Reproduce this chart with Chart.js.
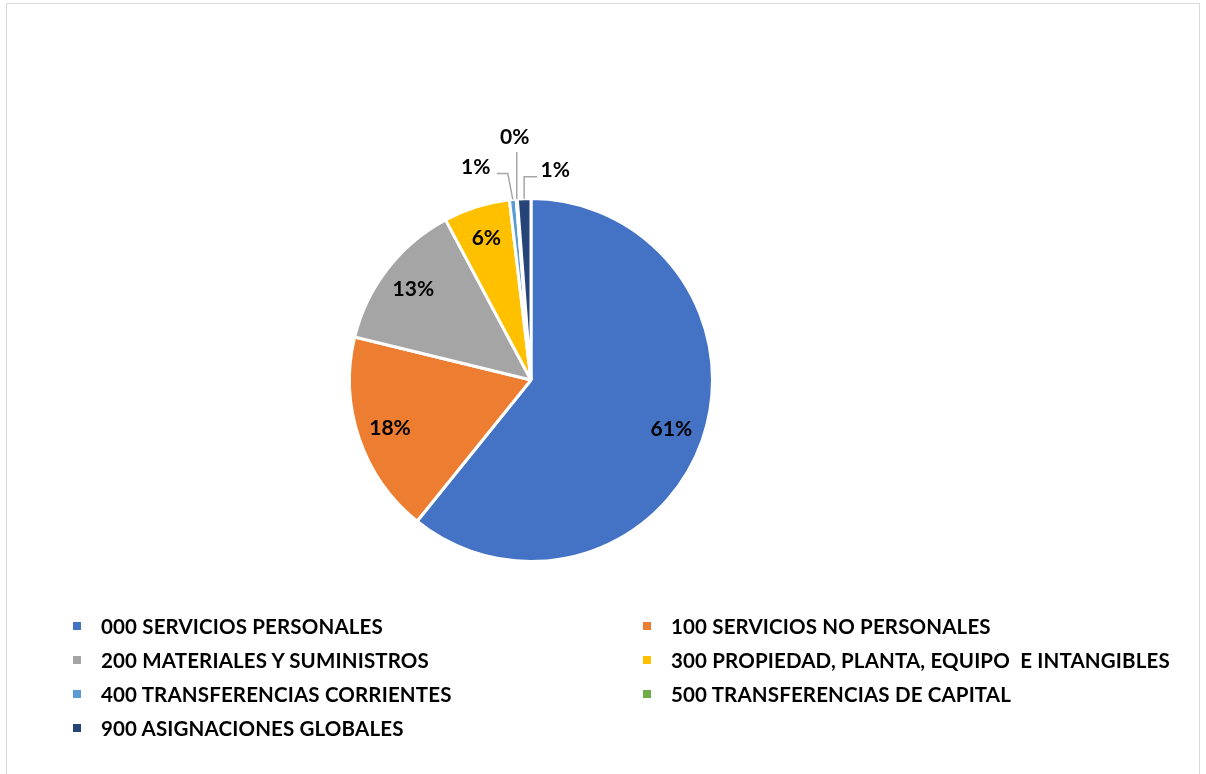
<!DOCTYPE html>
<html lang="es">
<head>
  <meta charset="UTF-8" />
  <title>Presupuesto por grupo de gasto</title>
  <style>
    body {
      margin: 0;
      background: #ffffff;
      width: 1206px;
      height: 774px;
      overflow: hidden;
      font-family: Lato, "Open Sans", sans-serif;
    }
    #frame {
      position: absolute;
      left: 6px;
      top: 3px;
      width: 1192px;
      height: 800px;
      border: 1.5px solid #d9d9d9;
    }
    #wrap {
      position: absolute;
      left: 0;
      top: 0;
      width: 1206px;
      height: 774px;
    }
    #legend {
      position: absolute;
      left: 73px;
      top: 613px;
      display: grid;
      grid-template-columns: 570px 560px;
      row-gap: 8px;
    }
    .item {
      display: flex;
      align-items: center;
      height: 26px;
      font-weight: bold;
      font-size: 20.5px;
      letter-spacing: 0.15px;
      color: #000;
      white-space: pre;
    }
    .sq {
      width: 8px;
      height: 8px;
      margin-right: 20px;
      flex: none;
    }
  </style>
</head>
<body>
  <div id="frame"></div>
  <div id="wrap"><canvas id="pie"></canvas></div>
  <div id="legend"></div>

  <script src="https://cdn.jsdelivr.net/npm/chart.js"></script>
  <script>
    // datos
    const categories = [
      "000 SERVICIOS PERSONALES",
      "100 SERVICIOS NO PERSONALES",
      "200 MATERIALES Y SUMINISTROS",
      "300 PROPIEDAD, PLANTA, EQUIPO  E INTANGIBLES",
      "400 TRANSFERENCIAS CORRIENTES",
      "500 TRANSFERENCIAS DE CAPITAL",
      "900 ASIGNACIONES GLOBALES"
    ];
    const values = [60.8, 18.0, 13.4, 5.9, 0.6, 0.1, 1.2];
    const colors = ["#4472C4", "#ED7D31", "#A5A5A5", "#FFC000", "#5B9BD5", "#70AD47", "#264478"];

    // donde va cada etiqueta: dentro o fuera con linea guia
    const placement = [
      "in", "in", "in", "in",
      { elbow: [-5, -26], run: -11, text: [-21, -6] },
      { elbow: [0, -47], run: 0, text: [-2, -15] },
      { elbow: [0, -22], run: 13, text: [18, -6] }
    ];

    // leyenda en dos columnas
    const legend = document.getElementById("legend");
    categories.forEach((c, i) => {
      const d = document.createElement("div");
      d.className = "item";
      d.innerHTML = `<span class="sq" style="background:${colors[i]}"></span>${c}`;
      legend.appendChild(d);
    });

    const total = values.reduce((a, b) => a + b, 0);

    const pctLabels = {
      id: "pctLabels",
      afterDatasetsDraw(chart) {
        const ctx = chart.ctx;
        const meta = chart.getDatasetMeta(0);
        ctx.save();
        ctx.font = "bold 21px Lato";
        ctx.fillStyle = "#000";
        ctx.textAlign = "center";
        ctx.textBaseline = "middle";
        meta.data.forEach((arc, i) => {
          const p = arc.getProps(["x", "y", "startAngle", "endAngle", "outerRadius"], true);
          const mid = (p.startAngle + p.endAngle) / 2;
          const txt = Math.round(values[i] / total * 100) + "%";
          const pl = placement[i];
          if (pl === "in") {
            const r = p.outerRadius * 0.82;
            ctx.fillText(txt, p.x + Math.cos(mid) * r, p.y + Math.sin(mid) * r);
          } else {
            const ex = p.x + Math.cos(mid) * p.outerRadius;
            const ey = p.y + Math.sin(mid) * p.outerRadius;
            const bx = ex + pl.elbow[0], by = ey + pl.elbow[1];
            ctx.strokeStyle = "#a6a6a6";
            ctx.lineWidth = 1.5;
            ctx.beginPath();
            ctx.moveTo(ex, ey);
            ctx.lineTo(bx, by);
            ctx.lineTo(bx + pl.run, by);
            ctx.stroke();
            ctx.fillText(txt, bx + pl.run + pl.text[0], by + pl.text[1]);
          }
        });
        ctx.restore();
      }
    };

    new Chart(document.getElementById("pie"), {
      type: "pie",
      data: {
        labels: categories,
        datasets: [{
          data: values,
          backgroundColor: colors,
          borderColor: "#ffffff",
          borderWidth: 3
        }]
      },
      options: {
        responsive: true,
        maintainAspectRatio: false,
        animation: false,
        layout: { padding: { left: 348, right: 492, top: 197, bottom: 211 } },
        plugins: {
          legend: { display: false },
          tooltip: { enabled: false }
        }
      },
      plugins: [pctLabels]
    });
  </script>
</body>
</html>
